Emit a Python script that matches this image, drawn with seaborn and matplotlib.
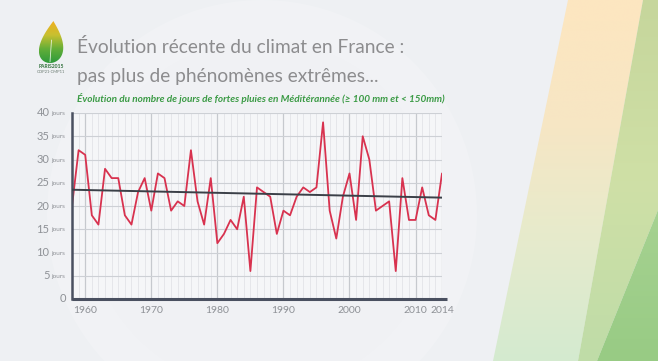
import numpy as np
import pandas as pd
import matplotlib
matplotlib.use("Agg")
import matplotlib.pyplot as plt
import seaborn as sns
from matplotlib.patches import Polygon, Circle
from matplotlib.colors import LinearSegmentedColormap

# ---------------- data ----------------
years = list(range(1958, 2015))
jours = [20, 32, 31, 18, 16, 28, 26, 26, 18, 16,
         23, 26, 19, 27, 26, 19, 21, 20, 32, 21,
         16, 26, 12, 14, 17, 15, 22, 6, 24, 23,
         22, 14, 19, 18, 22, 24, 23, 24, 38, 19,
         13, 22, 27, 17, 35, 30, 19, 20, 21, 6,
         26, 17, 17, 24, 18, 17, 27]
trend_years = [1958, 2014]
trend_values = [23.5, 21.8]
ytick_vals = [0, 5, 10, 15, 20, 25, 30, 35, 40]
xtick_vals = [1960, 1970, 1980, 1990, 2000, 2010, 2014]
title1 = "Évolution récente du climat en France :"
title2 = "pas plus de phénomènes extrêmes..."
subtitle = "Évolution du nombre de jours de fortes pluies en Méditérannée (≥ 100 mm et < 150mm)"
unit = "jours"

df = pd.DataFrame({"annee": years, "jours": jours})
df_trend = pd.DataFrame({"annee": trend_years, "jours": trend_values})

sns.set_theme(style="white")
plt.rcParams["font.family"] = ["Lato", "DejaVu Sans"]

W, H = 658, 361
fig = plt.figure(figsize=(W / 100, H / 100), dpi=100)
fig.patch.set_facecolor("#eef0f3")

# ---------------- background decoration ----------------
bg = fig.add_axes([0, 0, 1, 1], zorder=-5)
bg.axis("off")
bg.add_patch(Circle((262, 215), 215, facecolor="white", alpha=0.18, edgecolor="none"))
bg.add_patch(Circle((262, 215), 175, facecolor="#eef0f3", alpha=0.2, edgecolor="none"))


def grad_poly(ax, pts, colors):
    cmap = LinearSegmentedColormap.from_list("g", colors)
    poly = Polygon(pts, closed=True, facecolor="none", edgecolor="none")
    ax.add_patch(poly)
    xs = [p[0] for p in pts]
    ys = [p[1] for p in pts]
    grad = np.linspace(0, 1, 256).reshape(-1, 1)
    im = ax.imshow(grad, cmap=cmap, aspect="auto",
                   extent=(min(xs), max(xs), max(ys), min(ys)), interpolation="bicubic")
    im.set_clip_path(poly)


grad_poly(bg, [(568, 0), (643, 0), (578, H), (493, H)],
          ["#fde6c0", "#f7e6c4", "#e6ebcc", "#d4ead0"])
grad_poly(bg, [(643, 0), (W, 0), (W, 210), (597, H), (578, H)],
          ["#c6d69c", "#cfe0a6", "#bfdca8"])
grad_poly(bg, [(W, 210), (W, H), (597, H)],
          ["#a6d291", "#98cb84"])

# leaf logo
t = np.linspace(0, 2 * np.pi, 200)
lx = 50 + 16 * np.sin(t) * np.sin(t / 2) ** 1.1
ly = 42 - 21 * np.cos(t)
lx = lx - (ly - 63) * 0.08
grad_poly(bg, list(zip(lx, ly)), ["#f0b020", "#c8c030", "#62ae38", "#2e9a3c"])
bg.plot([51.5, 50], [40, 62], color="white", lw=0.6, alpha=0.8)
bg.set_xlim(0, W)
bg.set_ylim(H, 0)
bg.text(51, 67, "PARIS2015", fontsize=3.6, color="#2f6f3a", ha="center", va="center",
        weight="bold")
bg.text(51, 72, "COP21·CMP11", fontsize=3.0, color="#6a7a70", ha="center", va="center")

# titles
fig.text(77 / W, 1 - 53 / H, title1, fontsize=13.8, color="#8c8c8e", ha="left",
         va="baseline")
fig.text(77 / W, 1 - 82 / H, title2, fontsize=13.8, color="#8c8c8e", ha="left",
         va="baseline")
fig.text(77 / W, 1 - 99 / H, subtitle, fontsize=7.2, color="#3a9a44", ha="left",
         va="center", style="italic", weight="bold")

# ---------------- chart ----------------
left, right, top, bottom = 72, 442, 113, 299
ax = fig.add_axes([left / W, 1 - bottom / H, (right - left) / W, (bottom - top) / H])
ax.set_facecolor("#f5f6f8")

for yr in years:
    major = yr in xtick_vals
    ax.axvline(yr, color="#c6c9ce" if major else "#e2e4e8",
               lw=0.9 if major else 0.6, zorder=0)
for v in ytick_vals[1:]:
    ax.axhline(v, color="#cdd0d5", lw=0.8, zorder=0)

sns.lineplot(data=df, x="annee", y="jours", ax=ax, color="#d8324f", lw=1.3, zorder=2)
sns.lineplot(data=df_trend, x="annee", y="jours", ax=ax, color="#3b4048", lw=1.4,
             zorder=3)

ax.set_xlim(1958, 2014)
ax.set_ylim(0, 40)
ax.set_xlabel("")
ax.set_ylabel("")

for s in ["top", "right"]:
    ax.spines[s].set_visible(False)
ax.spines["left"].set_color("#4a5060")
ax.spines["left"].set_linewidth(1.8)
ax.spines["bottom"].set_visible(False)
ax.plot([0, 1.013], [0, 0], transform=ax.transAxes, color="#4a5060", lw=2.2,
        clip_on=False, zorder=5, solid_capstyle="butt")

ax.set_yticks(ytick_vals)
ax.set_yticklabels([])
ax.tick_params(axis="y", length=3, width=1, color="#4a5060", direction="out", pad=0)
ax.set_xticks(xtick_vals)
ax.set_xticklabels([str(v) for v in xtick_vals], fontsize=7.5, color="#8e9196")
ax.tick_params(axis="x", length=0, pad=5)

for v in ytick_vals:
    if v == 0:
        ax.annotate(str(v), xy=(0, v), xycoords=("axes fraction", "data"),
                    xytext=(-4.2, 0), textcoords="offset points", ha="right",
                    va="center", fontsize=8, color="#8e9196")
    else:
        ax.annotate(str(v), xy=(0, v), xycoords=("axes fraction", "data"),
                    xytext=(-16.2, 0), textcoords="offset points", ha="right",
                    va="center", fontsize=8, color="#8e9196")
        ax.annotate(unit, xy=(0, v), xycoords=("axes fraction", "data"),
                    xytext=(-15.2, -0.5), textcoords="offset points", ha="left",
                    va="center", fontsize=4.6, color="#8e9196")

fig.savefig("out.png", dpi=100, facecolor=fig.get_facecolor())
